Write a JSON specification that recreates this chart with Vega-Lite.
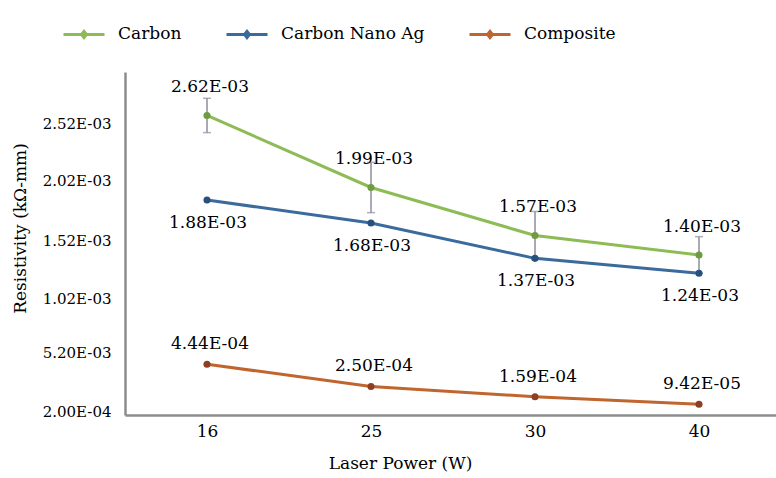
{
  "$schema": "https://vega.github.io/schema/vega-lite/v6.json",
  "autosize": {"type": "none"},
  "width": 656,
  "height": 343,
  "padding": {"left": 125, "top": 72, "right": 0, "bottom": 63},
  "background": "white",
  "config": {
    "view": {"stroke": null},
    "font": "DejaVu Serif",
    "text": {"font": "DejaVu Serif"}
  },
  "data": {
    "values": [
      {"power": 16, "series": "Carbon", "value": 0.00262, "lo": 0.00247, "hi": 0.00277, "label": "2.62E-03"},
      {"power": 25, "series": "Carbon", "value": 0.00199, "lo": 0.00177, "hi": 0.00221, "label": "1.99E-03"},
      {"power": 30, "series": "Carbon", "value": 0.00157, "lo": 0.00136, "hi": 0.00178, "label": "1.57E-03"},
      {"power": 40, "series": "Carbon", "value": 0.00140, "lo": 0.00124, "hi": 0.00156, "label": "1.40E-03"},
      {"power": 16, "series": "Carbon Nano Ag", "value": 0.00188, "label": "1.88E-03"},
      {"power": 25, "series": "Carbon Nano Ag", "value": 0.00168, "label": "1.68E-03"},
      {"power": 30, "series": "Carbon Nano Ag", "value": 0.00137, "label": "1.37E-03"},
      {"power": 40, "series": "Carbon Nano Ag", "value": 0.00124, "label": "1.24E-03"},
      {"power": 16, "series": "Composite", "value": 0.000444, "label": "4.44E-04"},
      {"power": 25, "series": "Composite", "value": 0.000250, "label": "2.50E-04"},
      {"power": 30, "series": "Composite", "value": 0.000159, "label": "1.59E-04"},
      {"power": 40, "series": "Composite", "value": 0.0000942, "label": "9.42E-05"}
    ]
  },
  "encoding": {
    "x": {
      "field": "power", "type": "ordinal", "sort": [16, 25, 30, 40],
      "scale": {"type": "point", "padding": 0.5},
      "axis": {
        "title": "Laser Power (W)", "labelAngle": 0, "ticks": false, "grid": false,
        "domainColor": "#8c8c8c", "domainWidth": 2.5,
        "labelFont": "DejaVu Serif", "labelFontSize": 17, "labelColor": "black", "labelPadding": 8,
        "titleFont": "DejaVu Serif", "titleFontSize": 17, "titleFontWeight": "normal", "titleColor": "black",
        "titleX": 275, "titleY": 40, "titleBaseline": "top"
      }
    }
  },
  "layer": [
    {
      "transform": [{"filter": "datum.series == 'Carbon'"}],
      "mark": {"type": "rule", "color": "#8e8c9c", "strokeWidth": 1.5},
      "encoding": {
        "y": {"field": "lo", "type": "quantitative"},
        "y2": {"field": "hi"}
      }
    },
    {
      "transform": [{"filter": "datum.series == 'Carbon'"}],
      "mark": {"type": "tick", "color": "#8e8c9c", "size": 8, "thickness": 1.5},
      "encoding": {"y": {"field": "lo", "type": "quantitative"}}
    },
    {
      "transform": [{"filter": "datum.series == 'Carbon'"}],
      "mark": {"type": "tick", "color": "#8e8c9c", "size": 8, "thickness": 1.5},
      "encoding": {"y": {"field": "hi", "type": "quantitative"}}
    },
    {
      "mark": {"type": "line", "strokeWidth": 3},
      "encoding": {
        "y": {
          "field": "value", "type": "quantitative",
          "scale": {"domain": [0, 0.003], "nice": false, "zero": false},
          "axis": {
            "title": "Resistivity (kΩ-mm)", "grid": false, "ticks": false,
            "values": [0.00003, 0.00055, 0.00102, 0.00153, 0.00205, 0.00255],
            "labelExpr": "datum.value < 0.0002 ? '2.00E-04' : datum.value < 0.0008 ? '5.20E-03' : datum.value < 0.0013 ? '1.02E-03' : datum.value < 0.0018 ? '1.52E-03' : datum.value < 0.0023 ? '2.02E-03' : '2.52E-03'",
            "domainColor": "#8c8c8c", "domainWidth": 2.5,
            "labelFont": "DejaVu Serif", "labelFontSize": 15, "labelColor": "black", "labelPadding": 14,
            "titleFont": "DejaVu Serif", "titleFontSize": 17, "titleFontWeight": "normal", "titleColor": "black",
            "titleX": -105, "titleY": 156, "titleBaseline": "middle", "titleAngle": 270
          }
        },
        "color": {
          "field": "series", "type": "nominal",
          "scale": {"domain": ["Carbon", "Carbon Nano Ag", "Composite"], "range": ["#8dbb55", "#3b6a9c", "#c0652e"]},
          "legend": {
            "orient": "none", "legendX": -63, "legendY": -60, "direction": "horizontal", "title": null,
            "symbolType": "M-1,0H1M-0.12,0L0,-0.15L0.12,0L0,0.15Z",
            "symbolSize": 1681, "symbolStrokeWidth": 3,
            "labelFont": "DejaVu Serif", "labelFontSize": 17, "labelColor": "black",
            "labelOffset": 12, "columnPadding": 38, "labelLimit": 400
          }
        }
      }
    },
    {
      "mark": {"type": "circle", "size": 50, "opacity": 1},
      "encoding": {
        "y": {"field": "value", "type": "quantitative"},
        "fill": {
          "field": "series", "type": "nominal",
          "scale": {"domain": ["Carbon", "Carbon Nano Ag", "Composite"], "range": ["#6f9c40", "#27507c", "#8e3f22"]},
          "legend": null
        }
      }
    },
    {
      "transform": [{"filter": "datum.series == 'Carbon'"}],
      "mark": {"type": "text", "font": "DejaVu Serif", "fontSize": 17, "dy": -28, "dx": 3, "baseline": "middle", "color": "black"},
      "encoding": {"y": {"field": "value", "type": "quantitative"}, "text": {"field": "label"}}
    },
    {
      "transform": [{"filter": "datum.series == 'Carbon Nano Ag'"}],
      "mark": {"type": "text", "font": "DejaVu Serif", "fontSize": 17, "dy": 23, "dx": 1, "baseline": "middle", "color": "black"},
      "encoding": {"y": {"field": "value", "type": "quantitative"}, "text": {"field": "label"}}
    },
    {
      "transform": [{"filter": "datum.series == 'Composite'"}],
      "mark": {"type": "text", "font": "DejaVu Serif", "fontSize": 17, "dy": -20, "dx": 3, "baseline": "middle", "color": "black"},
      "encoding": {"y": {"field": "value", "type": "quantitative"}, "text": {"field": "label"}}
    }
  ]
}
